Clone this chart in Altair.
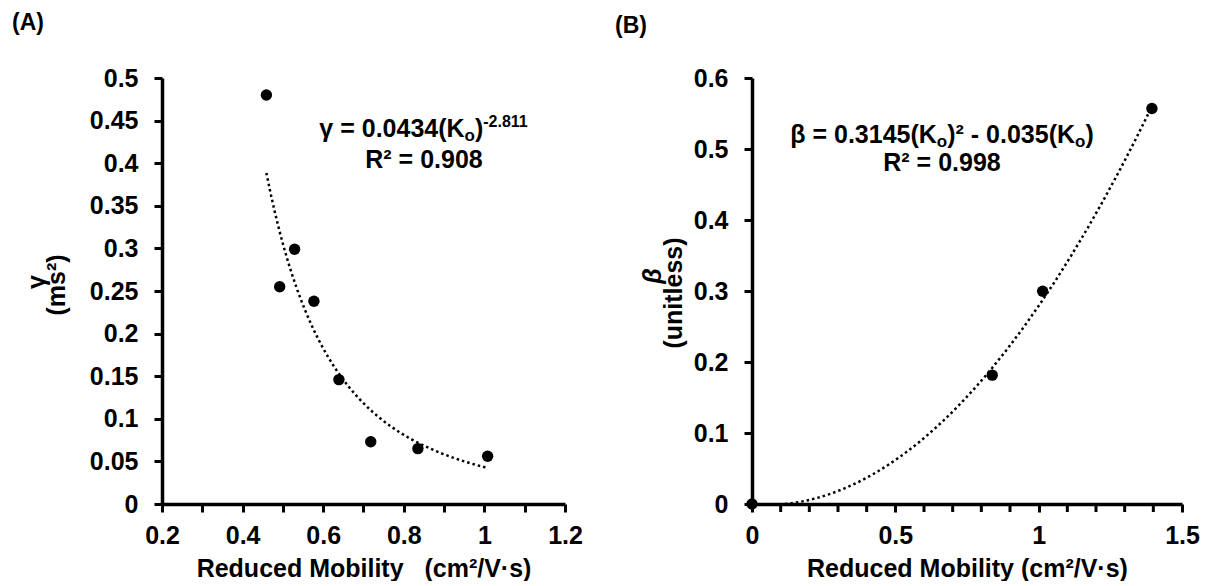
import altair as alt
import pandas as pd

# ---- data ----
ko_a = [0.459, 0.492, 0.529, 0.577, 0.639, 0.718, 0.835, 1.008]
gamma_ms2 = [0.480, 0.255, 0.299, 0.238, 0.146, 0.073, 0.065, 0.056]

ko_b = [0.0, 0.838, 1.014, 1.395]
beta_unitless = [0.0, 0.1815, 0.2996, 0.557]

xa_ticks = [round(0.2 + 0.1 * i, 1) for i in range(11)]
ya_ticks = [round(0.05 * i, 2) for i in range(11)]
xb_major = [0, 0.5, 1, 1.5]
xb_minor = [round(0.1 * i, 1) for i in range(16) if i % 5 != 0]
yb_ticks = [round(0.05 * i, 2) for i in range(13)]

FONT = "Liberation Sans"
W_A, H_A = 403, 426
W_B, H_B = 430, 426
NB = "\u00a0"
TICK = 8

# Arial-bold advance widths (per 1000 em) for laying out the equation pieces
ADV = {' ': 278, '(': 333, ')': 333, '-': 333, '.': 278, '=': 584, 'K': 722,
       'R': 722, 'o': 611, 'γ': 556, 'β': 611, '²': 333}


def tw(s, size):
    return sum(ADV.get(c, 556) for c in s) * size / 1000.0


def txt(s, x, y, size=25, align='left', style='normal', angle=0, baseline='alphabetic'):
    return alt.Chart(alt.Data(values=[{'k': 1}])).mark_text(
        text=s, align=align, baseline=baseline, font=FONT, fontSize=size,
        fontWeight='bold', fontStyle=style, angle=angle, color='black'
    ).encode(x=alt.value(x), y=alt.value(y))


def pieces(parts, cx, y):
    """parts: list of (text, size, dy). Laid out left to right, centred on cx."""
    total = sum(tw(t, s) for t, s, _ in parts)
    x = cx - total / 2
    out = []
    for t, s, dy in parts:
        out.append(txt(t, x, y + dy, size=s))
        x += tw(t, s)
    return out


def axis(values, title, expr=None):
    kw = dict(values=values, title=title, labelOverlap=False, labelFlush=False,
              labelBound=False)
    if expr:
        kw['labelExpr'] = expr
    else:
        kw['format'] = '~g'
    return alt.Axis(**kw)


# ---------------- Panel A ----------------
df_a = pd.DataFrame({'Ko': ko_a, 'val': gamma_ms2})

xa = alt.X('Ko:Q', scale=alt.Scale(domain=[0.2, 1.2], nice=False, zero=False),
           axis=axis(xa_ticks, 'Reduced Mobility' + NB * 3 + '(cm²/V·s)',
                     "indexof([2,4,6,8,10,12], round(datum.value*10)) >= 0 ? format(datum.value, '~g') : ''"))
ya = alt.Y('val:Q', scale=alt.Scale(domain=[0, 0.5], nice=False),
           axis=axis(ya_ticks, None))

pts_a = alt.Chart(df_a).mark_circle(size=130, color='black', opacity=1).encode(xa, ya)
fit_a = alt.Chart(df_a).transform_regression('Ko', 'val', method='pow').mark_line(
    color='black', strokeDash=[2.5, 3], strokeWidth=2.5).encode(x='Ko:Q', y='val:Q')

ann_a = pieces([('γ = 0.0434(K', 25, 0), ('o', 17, 4), (')', 25, 0), ('-2.811', 16, -10)], 262, 59)
ann_a.append(txt('R² = 0.908', 262, 90, align='center'))

lab_a = [
    txt('(A)', -150, -66, size=23, baseline='top'),
    txt('γ', -125, 204, size=25, angle=270, align='center', baseline='middle'),
    txt('(ms²)', -105, 207, size=25, angle=270, align='center', baseline='middle'),
]

panel_a = alt.layer(fit_a, pts_a, *ann_a, *lab_a).properties(width=W_A, height=H_A)

# ---------------- Panel B ----------------
df_b = pd.DataFrame({'Ko': ko_b, 'val': beta_unitless})

xb = alt.X('Ko:Q', scale=alt.Scale(domain=[0, 1.5], nice=False),
           axis=axis(xb_major, 'Reduced Mobility' + NB + '(cm²/V·s)'))
yb = alt.Y('val:Q', scale=alt.Scale(domain=[0, 0.6], nice=False),
           axis=axis(yb_ticks, None,
                     "indexof([0,10,20,30,40,50,60], round(datum.value*100)) >= 0 ? format(datum.value, '~g') : ''"))

pts_b = alt.Chart(df_b).mark_circle(size=130, color='black', opacity=1).encode(xb, yb)
fit_b = alt.Chart(df_b).transform_regression('Ko', 'val', method='poly', order=2).mark_line(
    color='black', strokeDash=[2.5, 3], strokeWidth=2.5, clip=True).encode(x='Ko:Q', y='val:Q')

# minor x ticks of panel B (unlabelled tick marks every 0.1)
minor_b = alt.Chart(pd.DataFrame({'Ko': xb_minor})).mark_tick(
    color='black', thickness=3, size=TICK, opacity=1, orient='vertical'
).encode(x='Ko:Q', y=alt.value(H_B + TICK / 2))

ann_b = pieces([('β = 0.3145(K', 25, 0), ('o', 17, 4), (')² - 0.035(K', 25, 0),
                ('o', 17, 4), (')', 25, 0)], 190, 65)
ann_b.append(txt('R² = 0.998', 190, 93, align='center'))

lab_b = [
    txt('(B)', -137, -63, size=23, baseline='top'),
    txt('β', -99, 198, size=25, angle=270, align='center', baseline='middle', style='italic'),
    txt('(unitless)', -78, 215, size=25, angle=270, align='center', baseline='middle'),
]

panel_b = alt.layer(fit_b, minor_b, pts_b, *ann_b, *lab_b).properties(width=W_B, height=H_B)

chart = alt.hconcat(panel_a, panel_b, spacing=32).properties(
    padding={'left': 12, 'top': 12, 'right': 0, 'bottom': 0}
).configure_view(stroke=None).configure_axis(
    grid=False, domainColor='black', domainWidth=3.5, tickColor='black', tickWidth=3,
    tickSize=TICK, labelFont=FONT, labelFontSize=25, labelFontWeight='bold', labelColor='black',
    labelOverlap=False, titleFont=FONT, titleFontSize=25,
    titleFontWeight='bold', titleColor='black', titlePadding=8
).configure_axisX(labelPadding=11).configure_axisY(labelPadding=16)

chart.save("out.html", embed_options={"renderer": "svg", "actions": False})
